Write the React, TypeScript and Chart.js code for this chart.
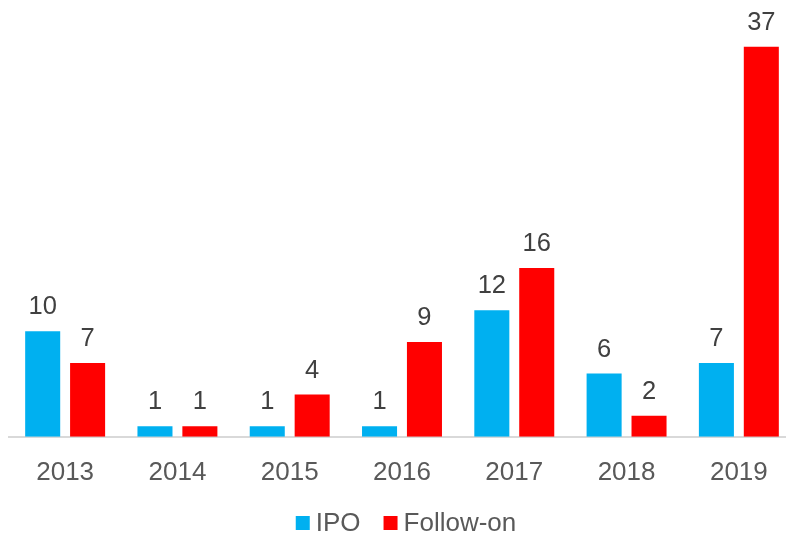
import React, { useEffect, useRef } from "react";
import { Chart, registerables } from "chart.js";

Chart.register(...registerables);

const years = ["2013", "2014", "2015", "2016", "2017", "2018", "2019"];
const ipoValues = [10, 1, 1, 1, 12, 6, 7];
const followOnValues = [7, 1, 4, 9, 16, 2, 37];
const seriesNames = ["IPO", "Follow-on"];
const seriesColors = ["#00B0F0", "#FF0000"];

const FONT = "'Liberation Sans', Arial, sans-serif";
const TEXT = "#595959";
const LABEL_TEXT = "#404040";

const labelPlugin = {
  id: "valueLabels",
  afterDatasetsDraw(chart: any) {
    const ctx = chart.ctx;
    ctx.save();
    ctx.font = `25.5px ${FONT}`;
    ctx.fillStyle = LABEL_TEXT;
    ctx.textAlign = "center";
    ctx.textBaseline = "alphabetic";
    chart.data.datasets.forEach((ds: any, i: number) => {
      const meta = chart.getDatasetMeta(i);
      meta.data.forEach((el: any, j: number) => {
        ctx.fillText(String(ds.data[j]), el.x, el.y - 17);
      });
    });
    ctx.restore();
  },
};

const legendPlugin = {
  id: "customLegend",
  afterDraw(chart: any) {
    const ctx = chart.ctx;
    ctx.save();
    ctx.font = `26px ${FONT}`;
    ctx.textBaseline = "middle";
    ctx.textAlign = "left";
    const box = 14;
    const gap = 6;
    const itemGap = 23;
    const items = chart.data.datasets.map((ds: any) => ({
      text: ds.label,
      color: ds.backgroundColor,
      w: box + gap + ctx.measureText(ds.label).width,
    }));
    const total = items.reduce((s: number, it: any) => s + it.w, 0) + itemGap * (items.length - 1);
    let x = 406 - total / 2;
    const y = 523;
    items.forEach((it: any) => {
      ctx.fillStyle = it.color;
      ctx.fillRect(x, y - box / 2, box, box);
      ctx.fillStyle = TEXT;
      ctx.fillText(it.text, x + box + gap, y + 1);
      x += it.w + itemGap;
    });
    ctx.restore();
  },
};

export default function App() {
  const ref = useRef<HTMLCanvasElement | null>(null);
  useEffect(() => {
    if (!ref.current) return;
    const chart = new Chart(ref.current, {
      type: "bar",
      data: {
        labels: years,
        datasets: [
          {
            label: seriesNames[0],
            data: ipoValues,
            backgroundColor: seriesColors[0],
            categoryPercentage: 0.8,
            barPercentage: 0.78,
          },
          {
            label: seriesNames[1],
            data: followOnValues,
            backgroundColor: seriesColors[1],
            categoryPercentage: 0.8,
            barPercentage: 0.78,
          },
        ],
      },
      options: {
        animation: false,
        responsive: false,
        maintainAspectRatio: false,
        devicePixelRatio: 1,
        layout: { padding: { left: 9, right: 5, top: 15, bottom: 34 } },
        plugins: {
          legend: { display: false },
          tooltip: { enabled: false },
        },
        scales: {
          x: {
            grid: { display: false },
            border: { display: true, color: "#D9D9D9", width: 2 },
            ticks: {
              color: TEXT,
              font: { family: FONT, size: 26 },
              padding: 12,
              maxRotation: 0,
            },
          },
          y: {
            display: false,
            min: 0,
            max: 40,
          },
        },
      },
      plugins: [labelPlugin, legendPlugin],
    });
    return () => chart.destroy();
  }, []);
  return (
    <div
      style={{
        position: "fixed",
        left: 0,
        top: 0,
        width: 786,
        height: 534,
        overflow: "hidden",
        background: "#fff",
      }}
    >
      <canvas ref={ref} width={800} height={534} style={{ width: 800, height: 534, display: "block" }} />
    </div>
  );
}
